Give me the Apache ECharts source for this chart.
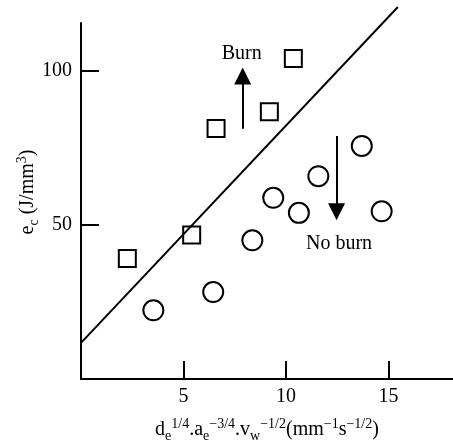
<!DOCTYPE html>
<html>
<head>
<meta charset="utf-8">
<script src="https://cdn.jsdelivr.net/npm/echarts@6/dist/echarts.min.js"></script>
<style>
  html, body { margin: 0; padding: 0; background: #fff; }
  #chart { width: 453px; height: 447px; }
</style>
</head>
<body>
<div id="chart"></div>
<script>
  // burn points (squares)
  const burnX = [2.26, 5.4, 6.59, 9.19, 10.36];
  const burnY = [39.1, 46.7, 81.3, 86.7, 104];
  // no-burn points (circles)
  const noBurnX = [3.53, 6.45, 8.36, 9.38, 10.63, 11.58, 13.7, 14.67];
  const noBurnY = [22.3, 28.2, 45, 58.8, 53.9, 65.8, 75.6, 54.4];
  // boundary line ends
  const lineX = [0, 15.46];
  const lineY = [11.7, 120.7];
  // arrows [x, from, to] and labels
  const burnArrow = [7.89, 81.2, 98.3];
  const noBurnArrow = [12.47, 78.8, 54.3];
  const labelText = ['Burn', 'No burn'];
  const labelX = [7.84, 12.59];
  const labelY = [105.6, 44];
  const xTicks = [5, 10, 15];
  const yTicks = [50, 100];

  const font = 'Liberation Serif';
  const chart = echarts.init(document.getElementById('chart'));

  const richStyle = {
    sup: { fontFamily: font, fontSize: 14, color: '#000', verticalAlign: 'top', lineHeight: 26 },
    sub: { fontFamily: font, fontSize: 14, color: '#000', verticalAlign: 'bottom', lineHeight: 22 }
  };

  const option = {
    backgroundColor: '#fff',
    animation: false,
    grid: { left: 81, right: 0, top: 23, bottom: 68, outerBoundsMode: 'none', containLabel: false },
    xAxis: {
      type: 'value', min: 0, max: 18.15, interval: 5,
      splitLine: { show: false },
      axisLine: { lineStyle: { color: '#000', width: 2 } },
      axisTick: { inside: true, length: 18, customValues: xTicks, lineStyle: { color: '#000', width: 2 } },
      axisLabel: {
        color: '#000', fontFamily: font, fontSize: 20, margin: 8,
        customValues: xTicks
      },
      name: 'd{sub|e}{sup|1/4}.a{sub|e}{sup|−3/4}.v{sub|w}{sup|−1/2}(mm{sup|−1}s{sup|−1/2})',
      nameLocation: 'middle',
      nameGap: 38,
      nameMoveOverlap: false,
      nameTextStyle: {
        color: '#000', fontFamily: font, fontSize: 20, lineHeight: 26,
        rich: richStyle
      }
    },
    yAxis: {
      type: 'value', min: 0, max: 115.5, interval: 50,
      splitLine: { show: false },
      axisLine: { lineStyle: { color: '#000', width: 2 } },
      axisTick: { inside: true, length: 18, customValues: yTicks, lineStyle: { color: '#000', width: 2 } },
      axisLabel: {
        color: '#000', fontFamily: font, fontSize: 20, margin: 9,
        customValues: yTicks
      },
      name: 'e{sub|c} (J/mm{sup|3})',
      nameLocation: 'middle',
      nameGap: 40,
      nameMoveOverlap: false,
      nameTextStyle: {
        color: '#000', fontFamily: font, fontSize: 20, lineHeight: 26,
        padding: [0, 0, 0, 18],
        rich: richStyle
      }
    },
    series: [
      {
        type: 'line',
        data: lineX.map((x, i) => [x, lineY[i]]),
        showSymbol: false,
        clip: false,
        lineStyle: { color: '#000', width: 2 },
        markLine: {
          silent: true,
          symbol: ['none', 'triangle'],
          symbolSize: [17, 17],
          label: { show: false },
          lineStyle: { color: '#000', width: 2, type: 'solid' },
          itemStyle: { color: '#000' },
          data: [
            [{ coord: [burnArrow[0], burnArrow[1]] }, { coord: [burnArrow[0], burnArrow[2]] }],
            [{ coord: [noBurnArrow[0], noBurnArrow[1]] }, { coord: [noBurnArrow[0], noBurnArrow[2]] }]
          ]
        }
      },
      {
        type: 'scatter',
        data: burnX.map((x, i) => [x, burnY[i]]),
        symbol: 'rect',
        symbolSize: 17,
        itemStyle: { color: '#fff', borderColor: '#000', borderWidth: 2, opacity: 1 }
      },
      {
        type: 'scatter',
        data: noBurnX.map((x, i) => [x, noBurnY[i]]),
        symbol: 'circle',
        symbolSize: 20,
        itemStyle: { color: '#fff', borderColor: '#000', borderWidth: 2, opacity: 1 }
      },
      {
        type: 'scatter',
        data: labelX.map((x, i) => ({ value: [x, labelY[i]], name: labelText[i] })),
        symbolSize: 0,
        itemStyle: { opacity: 1 },
        label: {
          show: true, position: 'inside', formatter: p => p.name,
          color: '#000', fontFamily: font, fontSize: 20
        }
      }
    ]
  };
  chart.setOption(option);
</script>
</body>
</html>
